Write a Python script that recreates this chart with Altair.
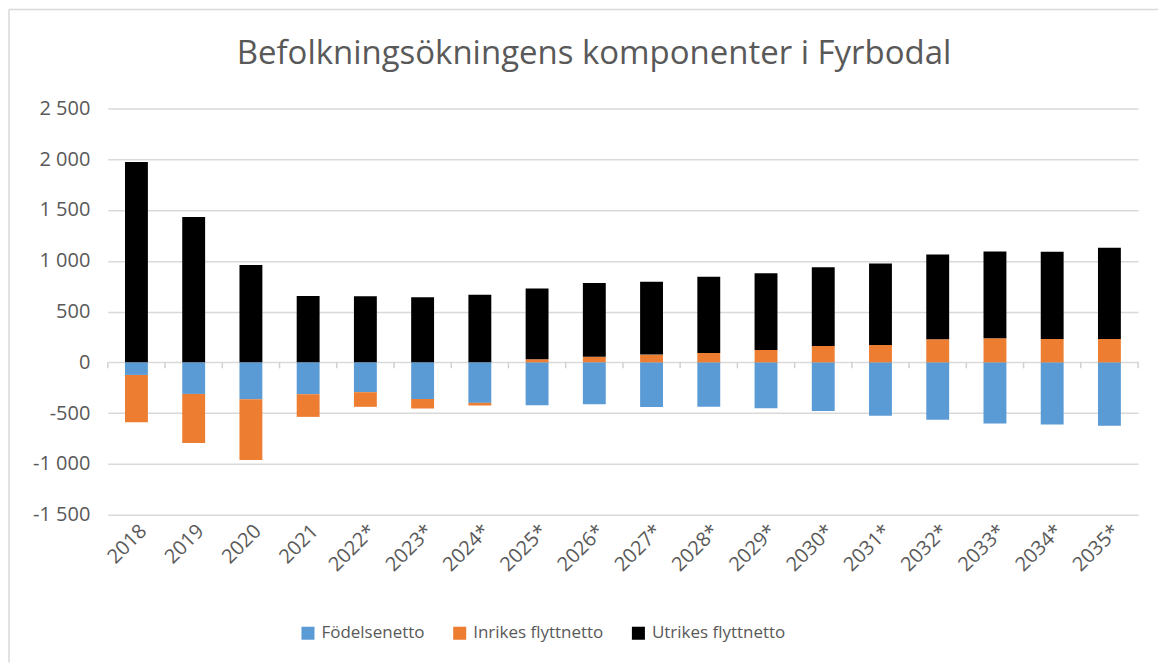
import altair as alt
import pandas as pd

years = ["2018", "2019", "2020", "2021", "2022*", "2023*", "2024*", "2025*", "2026*",
         "2027*", "2028*", "2029*", "2030*", "2031*", "2032*", "2033*", "2034*", "2035*"]
fodelsenetto = [-124, -311, -363, -314, -294, -362, -399, -422, -412, -441, -438, -453,
                -478, -527, -566, -602, -612, -625]
inrikes = [-465, -484, -599, -223, -144, -93, -26, 30, 56, 76, 92, 122, 161, 171, 227,
           237, 230, 230]
utrikes = [1972, 1432, 957, 653, 650, 641, 666, 698, 724, 717, 750, 754, 776, 803, 835,
           855, 858, 897]

series_names = ["Födelsenetto", "Inrikes flyttnetto", "Utrikes flyttnetto"]
series_colors = ["#5b9bd5", "#ed7d31", "#000000"]
title_text = ["Befolkningsökningens komponenter i Fyrbodal"]

rows = []
for i, y in enumerate(years):
    for k, (name, vals) in enumerate(zip(series_names, [fodelsenetto, inrikes, utrikes])):
        rows.append({"year": y, "series": name, "value": vals[i], "ord": k})
df = pd.DataFrame(rows)
title_df = pd.DataFrame({"t": title_text})
years_df = pd.DataFrame({"year": years})
last_df = pd.DataFrame({"year": years[-1:]})

font = "Open Sans"
grey = "#595959"
gridc = "#d9d9d9"
PAD_IN, PAD_OUT = 0.6, 0.3
xscale = alt.Scale(paddingInner=PAD_IN, paddingOuter=PAD_OUT)

W, H = 1032, 407
step = W / (len(years) - PAD_IN + 2 * PAD_OUT)
zero_from_top = H * 2500 / 4000

bars = alt.Chart(df).mark_bar().encode(
    x=alt.X("year:N", sort=years, title=None, scale=xscale,
            axis=alt.Axis(labelAngle=-45, labelFontSize=20, labelColor=grey, labelFont=font,
                          ticks=False, domain=False, labelPadding=6)),
    y=alt.Y("value:Q", stack="zero", title=None,
            scale=alt.Scale(domain=[-1500, 2500], nice=False),
            axis=alt.Axis(values=list(range(-1500, 2501, 500)), labelFontSize=20,
                          labelColor=grey, labelFont=font, ticks=False, domain=False,
                          labelPadding=18, gridColor=gridc, gridWidth=1.5,
                          minExtent=100, maxExtent=100,
                          labelExpr="(datum.value < 0 ? '-' : '') + replace(format(abs(datum.value), ','), ',', ' ')")),
    color=alt.Color("series:N", scale=alt.Scale(domain=series_names, range=series_colors),
                    legend=alt.Legend(title=None, orient="none", direction="horizontal",
                                      legendX=192, legendY=517, symbolType="square",
                                      symbolSize=170, symbolStrokeWidth=0, labelFontSize=17,
                                      labelColor=grey, labelFont=font, columnPadding=26,
                                      labelOffset=5)),
    order=alt.Order("ord:Q"),
)

ticks_left = alt.Chart(years_df).mark_rule(
    color="#d0d0d0", strokeWidth=1.5, xOffset=-step * PAD_IN / 2
).encode(
    x=alt.X("year:N", sort=years, bandPosition=0),
    y=alt.datum(0), y2=alt.value(zero_from_top + 6),
)
ticks_right = alt.Chart(last_df).mark_rule(
    color="#d0d0d0", strokeWidth=1.5, xOffset=step * PAD_IN / 2
).encode(
    x=alt.X("year:N", sort=years, bandPosition=1),
    y=alt.datum(0), y2=alt.value(zero_from_top + 6),
)

frame_left = alt.Chart(title_df).mark_rule(color=gridc, strokeWidth=1.5).encode(
    x=alt.value(-99), y=alt.value(-99), y2=alt.value(555))
frame_top = alt.Chart(title_df).mark_rule(color=gridc, strokeWidth=1.5).encode(
    x=alt.value(-99), x2=alt.value(1052), y=alt.value(-99))

title = alt.Chart(title_df).mark_text(
    fontSize=33, font=font, color=grey, align="center", baseline="alphabetic"
).encode(text="t:N", x=alt.value(487), y=alt.value(-44))

chart = alt.layer(frame_left, frame_top, bars, ticks_left, ticks_right, title).properties(
    width=W,
    height=H,
    padding={"left": 0, "top": 0, "right": 0, "bottom": 0},
).configure_view(stroke=None)

chart.save("out.html", embed_options={"renderer": "svg", "actions": False})
